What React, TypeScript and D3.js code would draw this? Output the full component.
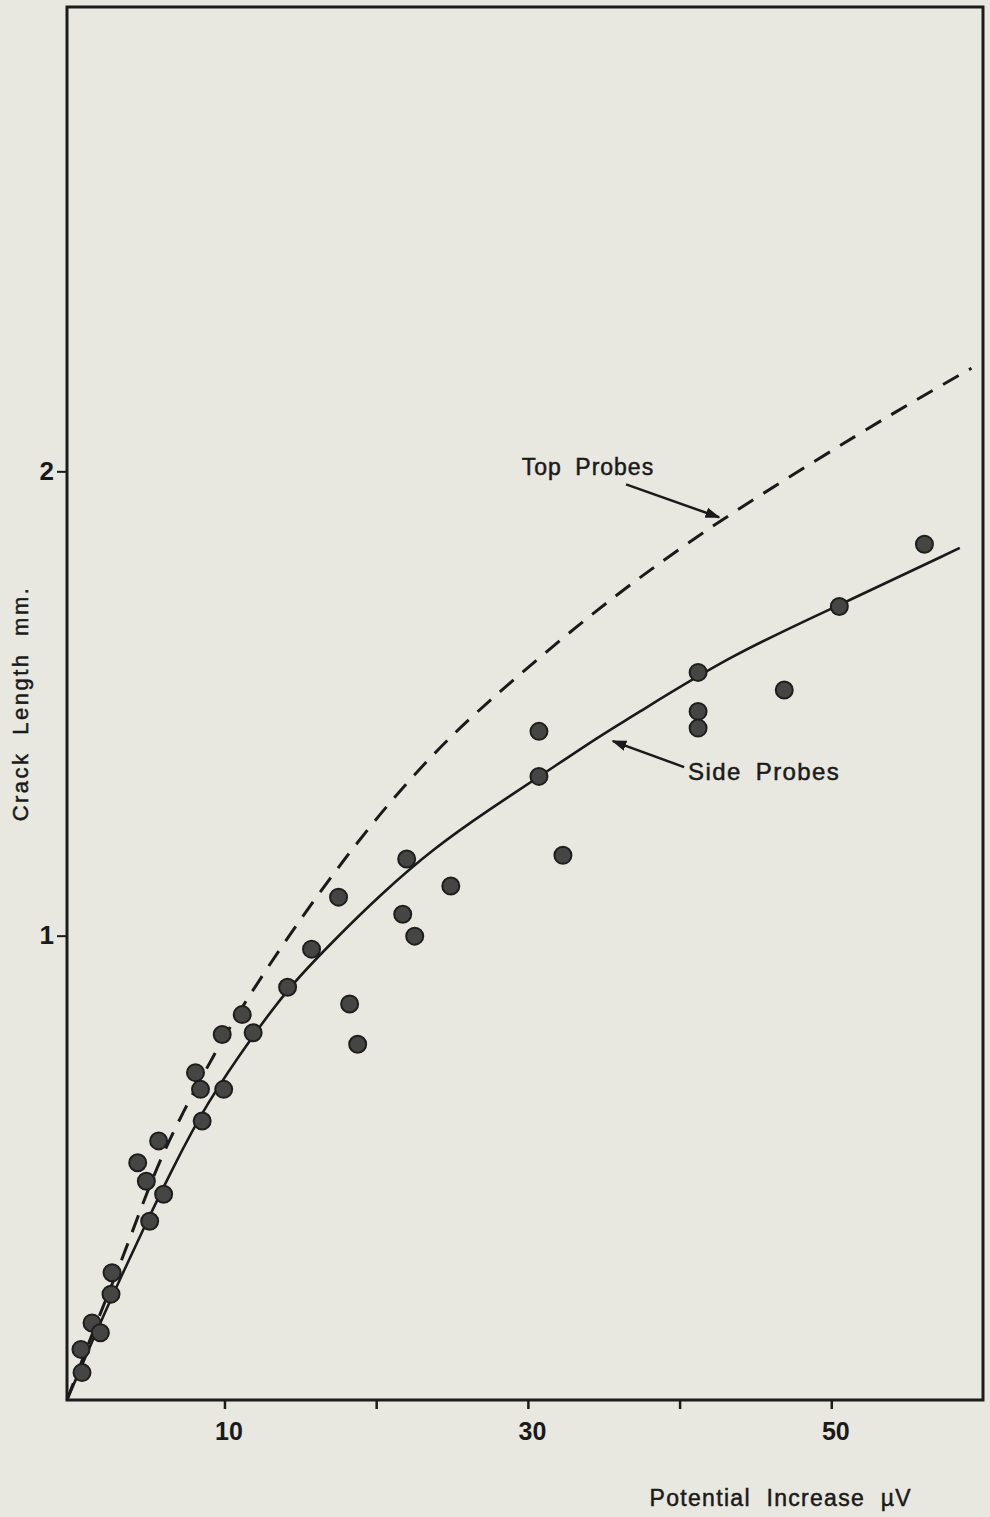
import React, { useEffect, useRef } from 'react';
import * as d3 from 'd3';

// measured points (potential increase µV, crack length mm)
const pointX = [0.61, 0.54, 1.27, 1.82, 2.52, 2.59, 5.07, 5.99, 4.85, 4.28, 5.66, 8.53, 8.42, 9.95, 8.09, 9.85, 11.89, 11.17, 14.16, 15.74, 18.25, 18.78, 17.52, 21.75, 22.54, 22.01, 24.92, 30.73, 30.73, 32.31, 41.22, 41.22, 41.22, 46.9, 50.53, 56.14];
const pointY = [0.059, 0.109, 0.166, 0.145, 0.228, 0.274, 0.385, 0.443, 0.471, 0.511, 0.558, 0.601, 0.669, 0.669, 0.705, 0.787, 0.791, 0.83, 0.889, 0.971, 0.853, 0.766, 1.083, 1.046, 0.999, 1.165, 1.107, 1.343, 1.44, 1.173, 1.567, 1.483, 1.447, 1.529, 1.709, 1.843];

// side probes calibration curve (solid)
const sideX = [-0.38, 1.37, 3.14, 4.9, 6.44, 8.86, 11.93, 14.24, 17.21, 20.3, 23.82, 27.56, 30.64, 34.82, 36.58, 43.4, 50.55, 58.47];
const sideY = [0.0, 0.134, 0.263, 0.385, 0.49, 0.642, 0.787, 0.889, 0.99, 1.089, 1.189, 1.274, 1.34, 1.432, 1.466, 1.605, 1.712, 1.835];

// top probes calibration curve (dashed)
const topX = [-0.38, 1.6, 3.14, 4.46, 5.78, 7.3, 8.71, 10.61, 12.82, 15.23, 17.87, 20.74, 23.82, 27.12, 33.5, 37.9, 42.74, 48.9, 54.4, 59.24];
const topY = [0.0, 0.17, 0.293, 0.41, 0.52, 0.622, 0.708, 0.818, 0.931, 1.046, 1.164, 1.282, 1.394, 1.498, 1.675, 1.785, 1.896, 2.022, 2.132, 2.222];

const xTicks = [10, 20, 30, 40, 50];
const xTickLabels = ['10', '', '30', '', '50'];
const yTicks = [1, 2];

const W = 990;
const H = 1517;
const font = '"Liberation Sans", Arial, sans-serif';
const ink = '#1a1a1a';

function App() {
    const svgRef = useRef(null);

    useEffect(() => {
        const svg = d3.select(svgRef.current);
        svg.selectAll('*').remove();

        const left = 67, right = 983, top = 7, bottom = 1400;

        const x = d3.scaleLinear().domain([-0.38, 60.0]).range([left, right]);
        const y = d3.scaleLinear().domain([0, 3]).range([bottom, top]);

        svg.append('rect').attr('width', W).attr('height', H).attr('fill', '#e8e8e0');

        // frame
        svg.append('rect')
            .attr('x', left).attr('y', top)
            .attr('width', right - left).attr('height', bottom - top)
            .attr('fill', 'none').attr('stroke', '#1c1c1c').attr('stroke-width', 3);

        // x axis
        const xAxis = svg.append('g')
            .attr('transform', `translate(0,${bottom})`)
            .call(d3.axisBottom(x).tickValues(xTicks).tickSize(9).tickPadding(13)
                .tickFormat((d, i) => xTickLabels[i]));
        xAxis.select('.domain').remove();
        xAxis.selectAll('line').attr('stroke', '#1c1c1c').attr('stroke-width', 2.5);
        xAxis.selectAll('text').attr('font-family', font).attr('font-size', 25)
            .attr('font-weight', 'bold').attr('fill', ink).attr('dx', 4);

        // y axis
        const yAxis = svg.append('g')
            .attr('transform', `translate(${left},0)`)
            .call(d3.axisLeft(y).tickValues(yTicks).tickSize(10).tickPadding(3).tickFormat(d3.format('d')));
        yAxis.select('.domain').remove();
        yAxis.selectAll('line').attr('stroke', '#1c1c1c').attr('stroke-width', 2);
        yAxis.selectAll('text').attr('font-family', font).attr('font-size', 26)
            .attr('font-weight', 'bold').attr('fill', ink);

        const line = d3.line().curve(d3.curveBasis)
            .x(d => x(d[0])).y(d => y(d[1]));

        svg.append('path')
            .datum(topX.map((v, i) => [v, topY[i]]))
            .attr('fill', 'none').attr('stroke', ink)
            .attr('stroke-width', 3).attr('stroke-dasharray', '18,12')
            .attr('d', line);

        svg.append('path')
            .datum(sideX.map((v, i) => [v, sideY[i]]))
            .attr('fill', 'none').attr('stroke', ink)
            .attr('stroke-width', 2.6)
            .attr('d', line);

        svg.append('g').selectAll('circle')
            .data(pointX.map((v, i) => [v, pointY[i]]))
            .join('circle')
            .attr('cx', d => x(d[0])).attr('cy', d => y(d[1]))
            .attr('r', 8.5)
            .attr('fill', '#454543').attr('stroke', '#1e1e1e').attr('stroke-width', 2);

        // annotations
        svg.append('defs').append('marker')
            .attr('id', 'arr').attr('viewBox', '0 0 10 10')
            .attr('refX', 9).attr('refY', 5)
            .attr('markerWidth', 6).attr('markerHeight', 6)
            .attr('orient', 'auto')
            .append('path').attr('d', 'M0,1.5 L10,5 L0,8.5 z').attr('fill', ink);

        const label = (sel, size, ls, ws) => sel
            .attr('font-family', font).attr('font-size', size)
            .attr('letter-spacing', ls).attr('word-spacing', ws)
            .attr('fill', ink).attr('stroke', ink).attr('stroke-width', 0.5);

        svg.append('text')
            .attr('x', x(29.6)).attr('y', y(1.993))
            .call(label, 23, 1, 6).text('Top Probes');
        svg.append('line')
            .attr('x1', x(36.47)).attr('y1', y(1.972))
            .attr('x2', x(42.6)).attr('y2', y(1.901))
            .attr('stroke', ink).attr('stroke-width', 2.5)
            .attr('marker-end', 'url(#arr)');

        svg.append('text')
            .attr('x', x(40.56)).attr('y', y(1.335))
            .call(label, 24, 1.4, 6).text('Side Probes');
        svg.append('line')
            .attr('x1', x(40.3)).attr('y1', y(1.363))
            .attr('x2', x(35.6)).attr('y2', y(1.419))
            .attr('stroke', ink).attr('stroke-width', 2.5)
            .attr('marker-end', 'url(#arr)');

        // axis titles
        svg.append('text')
            .attr('transform', `translate(28,${y(1.5)}) rotate(-90)`)
            .attr('text-anchor', 'middle')
            .call(label, 22, 2.5, 8).text('Crack Length mm.');

        svg.append('text')
            .attr('x', 912).attr('y', 1506)
            .attr('text-anchor', 'end')
            .call(label, 23, 1.3, 8).text('Potential Increase µV');
    }, []);

    return (
        <svg ref={svgRef} width={W} height={H}
            style={{ position: 'absolute', left: 0, top: 0, display: 'block' }}></svg>
    );
}

export default App;
